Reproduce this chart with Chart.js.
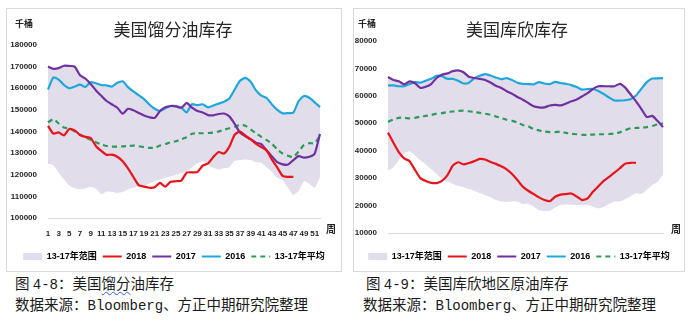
<!DOCTYPE html>
<html><head><meta charset="utf-8">
<script src="https://cdn.jsdelivr.net/npm/chart.js@4.4.1/dist/chart.umd.min.js"></script>
<style>
html,body{margin:0;padding:0;background:#fff;}
body{width:700px;height:329px;position:relative;overflow:hidden;font-family:"Noto Sans CJK SC",sans-serif;}
.box{position:absolute;border:1px solid #d9d9d9;box-sizing:border-box;background:#fff;}
.box canvas{position:absolute;left:0;top:0;}
.t{position:absolute;white-space:nowrap;color:#262626;line-height:1;}
.title{font-size:17px;transform:translateX(-50%);}
.unit{font-size:9px;font-weight:bold;}
.zhou{font-size:10px;font-weight:bold;}
.cap{font-size:14.5px;font-family:"Noto Sans CJK SC",sans-serif;color:#1a1a1a;}
.lat{font-family:"Liberation Mono",monospace;font-size:14px;}
.wavy{text-decoration:underline wavy #3b5bd6;text-decoration-thickness:1px;text-underline-offset:2px;}
</style></head>
<body>
<div class="box" style="left:6px;top:8px;width:336px;height:264px;"><canvas id="c1" width="334" height="262"></canvas></div>
<div class="box" style="left:353px;top:8px;width:332px;height:264px;"><canvas id="c2" width="330" height="262"></canvas></div>

<div class="t title" style="left:173px;top:20px;">美国馏分油库存</div>
<div class="t title" style="left:517px;top:20px;">美国库欣库存</div>
<div class="t unit" style="left:15px;top:19px;">千桶</div>
<div class="t unit" style="left:358px;top:19px;">千桶</div>
<div class="t zhou" style="left:326px;top:224px;">周</div>
<div class="t zhou" style="left:671px;top:224px;">周</div>

<div class="t cap" style="left:15px;top:276px;">图 <span class="lat">4-8</span>：美国<span class="wavy">馏分</span>油库存</div>
<div class="t cap" style="left:15px;top:297px;">数据来源：<span class="lat">Bloomberg</span>、方正中期研究院整理</div>
<div class="t cap" style="left:366px;top:276px;">图 <span class="lat">4-9</span>：美国库欣地区原油库存</div>
<div class="t cap" style="left:363px;top:297px;">数据来源：<span class="lat">Bloomberg</span>、方正中期研究院整理</div>

<script>
// ---------- data ----------
const weeks = Array.from({length: 52}, (_, i) => String(i + 1));

// 美国馏分油库存 (千桶)
const dist2018 = [142600,139000,139600,138200,141200,140500,138400,137500,137000,133200,131000,129200,129300,128300,126200,122900,119000,115200,114500,114000,114200,116200,114500,116800,117000,117300,121000,121100,121200,124200,125200,128200,130500,129800,133000,138500,140000,138100,136300,134300,132800,131200,127000,123300,119500,119000,119000];
const dist2017 = [170000,169000,169300,170400,170300,170000,166000,164500,162000,159000,156500,154100,152500,151000,148200,150500,149800,148600,147400,146600,146300,149500,151200,151800,151600,151000,153200,151000,149500,148800,147600,147500,148100,148300,147000,143500,139500,137800,136500,134800,134200,131200,128500,125800,124800,124700,126800,128600,127900,128300,129700,138900];
const dist2016 = [159400,165000,164000,161500,160000,160800,161700,160600,162800,162300,161500,161300,160800,162500,163200,160500,158500,156800,155000,152500,150500,149500,150700,151800,151800,151000,148800,152600,152200,152600,151200,152000,152900,153800,155300,159400,163500,164800,163000,159000,156600,155500,152500,150000,148400,148500,148800,154100,156400,155600,153500,151300];
const distAvg = [144200,145700,143700,141800,141400,140000,138500,137400,136200,135000,134000,133300,133000,133000,133100,133300,133500,133200,132800,132400,132500,133500,134200,135000,135500,136400,137300,139000,139200,139200,139300,139500,140000,140800,141500,142200,143000,142700,141000,139200,137500,136000,134300,131700,129800,128800,128200,130800,133800,134600,134600,138100];
const distHigh = [170000,169000,169300,170400,170300,170000,166000,164500,162800,162300,161500,161300,160800,162500,163200,160500,158500,156800,155000,152500,150500,149500,151200,151800,151800,151000,153200,152600,152200,152600,151200,152000,152900,153800,155300,159400,163500,164800,163000,159000,156600,155500,152500,150000,148400,148500,148800,154100,156400,155600,153500,151300];
const distLow = [125100,124400,121000,117800,115000,113700,113300,113600,114500,113500,111000,112200,112000,111600,112000,113200,114000,114600,115000,116000,117000,117800,118600,119200,119900,120800,121600,123500,125200,126200,124500,123200,122400,123000,123500,126500,126700,127000,126700,125900,125600,123500,121300,118600,117500,114000,110800,112500,117000,115800,114000,119000];

// 美国库欣库存 (千桶)
const cush2018 = [46600,42900,39500,37200,36200,33000,30000,29000,28300,28200,29000,31000,34500,35800,35000,35500,36200,37000,36800,35900,35200,34300,33200,31500,29300,26900,25400,24200,23000,22000,21600,23200,24000,24200,24400,23300,22000,22600,25000,27000,29000,30500,32000,33600,35300,35600,35600];
const cush2017 = [66850,65800,65300,64200,65300,64600,62900,63300,64300,66500,67700,68200,69000,69300,68600,67000,66500,66200,65800,64900,63700,62900,61700,60800,59600,58600,57400,56200,55800,55800,56500,56700,56500,57200,58000,58700,59800,61000,62500,63500,63500,63500,63500,64400,63000,60500,58000,55200,52300,52700,50800,48600];
const cush2016 = [63800,63800,63500,63500,64300,65000,64800,65500,66200,67300,67200,66200,66200,65500,64500,64800,66400,67300,67900,67400,66700,66100,66500,65800,64800,64400,64300,64200,65000,64500,64300,65100,64700,64400,63900,63200,62300,62500,62500,61800,60700,59400,58300,58300,58400,58800,60100,62600,65000,66300,66400,66500];
const cushAvg = [50500,51400,52000,52000,51800,52000,52400,52700,53000,53500,53700,54100,54300,54500,54600,54400,54100,53800,53500,53100,52500,51900,51300,50900,50300,49400,48900,47900,47400,47000,46800,46800,46900,46500,46200,46000,45800,45800,45900,46000,46000,46100,46300,46700,47500,48200,48300,48400,48600,49000,49600,49900];
const cushHigh = [66850,65800,65300,64200,65300,65000,64800,65500,66200,67300,67700,68200,69000,69300,68600,67000,66500,67300,67900,67400,66700,66100,66500,65800,64800,64400,64300,64200,65000,64500,64300,65100,64700,64400,63900,63200,62300,62500,62500,63500,63500,63500,63500,64400,63000,60500,60100,62600,65000,66300,66400,66500];
const cushLow = [32700,34000,36500,39000,39800,38300,36500,35000,33300,31500,29800,28800,28000,27200,26700,26000,25400,24600,23800,23000,22000,21500,21400,21500,21500,20600,20700,19700,18300,18000,18100,19300,20200,20400,20300,20200,20200,20300,19600,19000,19600,20600,21500,21500,22300,23400,24500,24300,25800,27500,28600,31200];

const seriesNames = ['13-17年范围', '2018', '2017', '2016', '13-17年平均'];

// ---------- styles ----------
const BAND = '#e2ddea', RED = '#e8141c', PURPLE = '#7030a0', BLUE = '#1fa7dc', GREEN = '#2e9a5a';
const TXT = '#262626';
Chart.defaults.font.family = "'Liberation Sans','Noto Sans CJK SC',sans-serif";
Chart.defaults.color = TXT;

function legendItems() {
  return [
    {text: seriesNames[0], fillStyle: BAND, strokeStyle: BAND, lineWidth: 0, pointStyle: 'rect', hidden: false, datasetIndex: 4},
    {text: seriesNames[1], fillStyle: RED, strokeStyle: RED, lineWidth: 2, pointStyle: 'line', hidden: false, datasetIndex: 0},
    {text: seriesNames[2], fillStyle: PURPLE, strokeStyle: PURPLE, lineWidth: 2, pointStyle: 'line', hidden: false, datasetIndex: 1},
    {text: seriesNames[3], fillStyle: BLUE, strokeStyle: BLUE, lineWidth: 2, pointStyle: 'line', hidden: false, datasetIndex: 2},
    {text: seriesNames[4], fillStyle: GREEN, strokeStyle: GREEN, lineWidth: 2, lineDash: [5, 4], pointStyle: 'line', hidden: false, datasetIndex: 3}
  ];
}

function makeChart(id, d, yMin, yMax, showX, opts) {
  const line = (data, color, dash) => ({
    data, borderColor: color, backgroundColor: color, borderWidth: 2.2, pointRadius: 0,
    tension: 0.2, fill: false, borderDash: dash || []
  });
  return new Chart(document.getElementById(id), {
    type: 'line',
    data: {
      labels: weeks,
      datasets: [
        line(d.y2018, RED),
        line(d.y2017, PURPLE),
        line(d.y2016, BLUE),
        line(d.avg, GREEN, [5, 4]),
        {data: d.high, borderWidth: 0, pointRadius: 0, backgroundColor: BAND, borderColor: BAND, fill: '+1', tension: 0.2},
        {data: d.low, borderWidth: 0, pointRadius: 0, backgroundColor: BAND, borderColor: BAND, fill: false, tension: 0.2}
      ]
    },
    options: {
      responsive: false, animation: false, devicePixelRatio: 1,
      layout: {padding: {left: 0, right: 0, top: opts.padTop, bottom: opts.padBottom}},
      plugins: {
        title: {display: false}, tooltip: {enabled: false},
        legend: {
          display: true, position: 'bottom', align: 'center',
          labels: {
            usePointStyle: true, pointStyleWidth: 19, boxHeight: 7, padding: 6,
            color: TXT, font: {size: 9, weight: 'bold'},
            generateLabels: legendItems
          }
        }
      },
      scales: {
        x: {
          type: 'category', offset: false,
          grid: {display: false, drawTicks: false},
          border: {display: true, color: '#d9d9d9', width: 1},
          ticks: {
            display: showX, autoSkip: false, maxRotation: 0, minRotation: 0, padding: opts.xPad,
            font: {size: 8, weight: 'bold'}, color: TXT,
            callback: function(v, i) { const l = this.getLabelForValue(v); return (i % 2 === 0) ? l : ''; }
          },
          afterFit: s => { s.height = opts.xHeight; }
        },
        y: {
          min: yMin, max: yMax,
          grid: {display: false, drawTicks: false},
          border: {display: false},
          ticks: {stepSize: 10000, padding: 11, font: {size: 8, weight: 'bold'}, color: TXT,
                  callback: v => String(v)},
          afterFit: s => { s.width = opts.yWidth; }
        },
        // empty spacer axis on the right so the legend stays centred on the whole box
        yR: {
          type: 'linear', position: 'right', display: true, min: yMin, max: yMax,
          grid: {display: false, drawTicks: false}, border: {display: false},
          ticks: {display: false},
          afterFit: s => { s.width = opts.rightW; }
        }
      }
    }
  });
}

makeChart('c1', {y2018: dist2018, y2017: dist2017, y2016: dist2016, avg: distAvg, high: distHigh, low: distLow},
  100000, 180000, true, {padTop: 36, padBottom: 0, xPad: 11, xHeight: 28, yWidth: 41, rightW: 21});
makeChart('c2', {y2018: cush2018, y2017: cush2017, y2016: cush2016, avg: cushAvg, high: cushHigh, low: cushLow},
  10000, 80000, false, {padTop: 32, padBottom: 0, xPad: 0, xHeight: 13, yWidth: 34, rightW: 21});
</script>
</body></html>
